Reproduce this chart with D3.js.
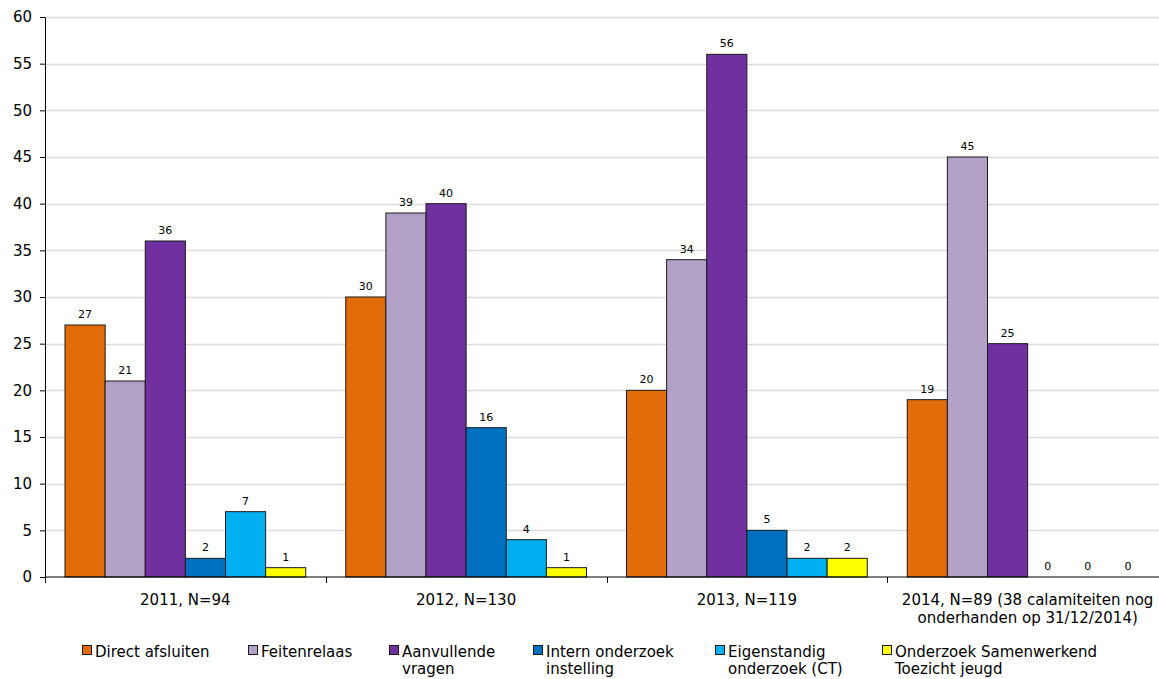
<!DOCTYPE html>
<html>
<head>
<meta charset="utf-8">
<script src="https://cdn.jsdelivr.net/npm/d3@7"></script>
<style>
  body { margin: 0; background: #fff; }
  svg text { font-family: "DejaVu Sans", Verdana, sans-serif; fill: #000; }
</style>
</head>
<body>
<div id="chart"></div>
<script>
// data
var categories = [
  ["2011, N=94"],
  ["2012, N=130"],
  ["2013, N=119"],
  ["2014, N=89 (38 calamiteiten nog", "onderhanden op 31/12/2014)"]
];
var seriesNames = [
  ["Direct afsluiten"],
  ["Feitenrelaas"],
  ["Aanvullende", "vragen"],
  ["Intern onderzoek", "instelling"],
  ["Eigenstandig", "onderzoek (CT)"],
  ["Onderzoek Samenwerkend", "Toezicht jeugd"]
];
var directAfsluiten   = [27, 30, 20, 19];
var feitenrelaas      = [21, 39, 34, 45];
var aanvullendeVragen = [36, 40, 56, 25];
var internOnderzoek   = [2, 16, 5, 0];
var eigenstandig      = [7, 4, 2, 0];
var samenwerkend      = [1, 1, 2, 0];
var yTicks = [0, 5, 10, 15, 20, 25, 30, 35, 40, 45, 50, 55, 60];

var colors = ["#E36C0A", "#B2A2C7", "#7030A0", "#0070C0", "#00B0F0", "#FFFF00"];
var series = [directAfsluiten, feitenrelaas, aanvullendeVragen, internOnderzoek, eigenstandig, samenwerkend];

var W = 1159, H = 679;
var margin = {top: 17, left: 45, bottom: 102},
    plotRight = 1168;

var svg = d3.select("#chart").append("svg")
    .attr("width", W)
    .attr("height", H);

var x0 = d3.scaleBand()
    .domain(d3.range(categories.length))
    .range([margin.left, plotRight])
    .paddingInner(0)
    .paddingOuter(0);

var x1 = d3.scaleBand()
    .domain(d3.range(series.length))
    .range([20, x0.bandwidth() - 20]);

var y = d3.scaleLinear()
    .domain([0, 60])
    .range([H - margin.bottom, margin.top]);

// gridlines
svg.append("g")
  .selectAll("line")
  .data(yTicks.slice(1))
  .enter().append("line")
    .attr("x1", margin.left)
    .attr("x2", plotRight)
    .attr("y1", function(d) { return Math.round(y(d)) + 0.5; })
    .attr("y2", function(d) { return Math.round(y(d)) + 0.5; })
    .attr("stroke", "#dcdcdc")
    .attr("stroke-width", 1.5);

// bars
var groups = svg.append("g")
  .selectAll("g")
  .data(categories)
  .enter().append("g")
    .attr("transform", function(d, i) { return "translate(" + x0(i) + ",0)"; });

groups.selectAll("rect")
  .data(function(d, i) { return series.map(function(s, k) { return {k: k, v: s[i]}; }); })
  .enter().append("rect")
    .filter(function(d) { return d.v > 0; })
    .attr("x", function(d) { return x1(d.k); })
    .attr("y", function(d) { return y(d.v); })
    .attr("width", x1.bandwidth())
    .attr("height", function(d) { return y(0) - y(d.v); })
    .attr("fill", function(d) { return colors[d.k]; })
    .attr("stroke", "#1a1a1a")
    .attr("stroke-width", 1);

groups.selectAll("text.val")
  .data(function(d, i) { return series.map(function(s, k) { return {k: k, v: s[i]}; }); })
  .enter().append("text")
    .attr("class", "val")
    .attr("x", function(d) { return x1(d.k) + x1.bandwidth() / 2; })
    .attr("y", function(d) { return y(d.v) - 7; })
    .attr("text-anchor", "middle")
    .attr("font-size", "11px")
    .text(function(d) { return d.v; });

// y axis
var yAxis = d3.axisLeft(y)
    .tickValues(yTicks)
    .tickSizeInner(5)
    .tickSizeOuter(0)
    .tickPadding(8);

svg.append("g")
    .attr("class", "y axis")
    .attr("transform", "translate(" + margin.left + ",0)")
    .call(yAxis)
    .call(function(g) {
      g.selectAll("text").attr("font-size", "15px").attr("fill", "#000");
      g.selectAll("line").attr("stroke", "#000");
      g.select(".domain").attr("stroke", "#000");
    });

// x axis, ticks between categories
var xAxisG = svg.append("g")
    .attr("transform", "translate(0," + y(0) + ")");

xAxisG.append("line")
    .attr("x1", margin.left).attr("x2", plotRight)
    .attr("stroke", "#000");

xAxisG.selectAll("line.tick")
  .data(d3.range(categories.length + 1))
  .enter().append("line")
    .attr("class", "tick")
    .attr("x1", function(d) { return Math.round(margin.left + d * x0.step()) + 0.5; })
    .attr("x2", function(d) { return Math.round(margin.left + d * x0.step()) + 0.5; })
    .attr("y1", 0).attr("y2", 6)
    .attr("stroke", "#000");

xAxisG.selectAll("text")
  .data(categories)
  .enter().append("text")
    .attr("x", function(d, i) { return x0(i) + x0.bandwidth() / 2; })
    .attr("y", 28)
    .attr("text-anchor", "middle")
    .attr("font-size", "15px")
    .selectAll("tspan")
    .data(function(d) { return d; })
    .enter().append("tspan")
      .attr("x", function() { return d3.select(this.parentNode).attr("x"); })
      .attr("dy", function(d, j) { return j ? 18 : 0; })
      .text(function(d) { return d; });

// legend
var legendX = [82, 248, 389, 533, 715, 882];
var legend = svg.append("g")
  .selectAll("g")
  .data(seriesNames)
  .enter().append("g")
    .attr("transform", function(d, i) { return "translate(" + legendX[i] + ",645)"; });

legend.append("rect")
    .attr("x", 0.5).attr("y", 0.5)
    .attr("width", 9).attr("height", 9)
    .attr("fill", function(d, i) { return colors[i]; })
    .attr("stroke", "#1a1a1a");

legend.append("text")
    .attr("y", 12)
    .attr("font-size", "15px")
    .selectAll("tspan")
    .data(function(d) { return d; })
    .enter().append("tspan")
      .attr("x", 13)
      .attr("dy", function(d, j) { return j ? 17 : 0; })
      .text(function(d) { return d; });
</script>
</body>
</html>
